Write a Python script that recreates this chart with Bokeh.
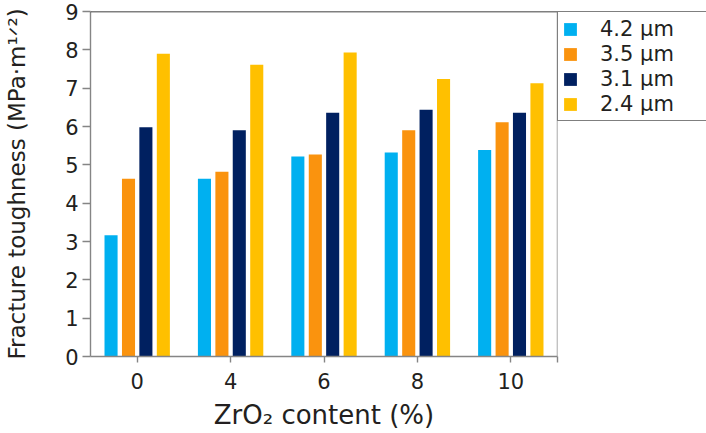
from bokeh.plotting import figure
from bokeh.models import ColumnDataSource, Legend, LegendItem, FixedTicker, Span, Range1d
from bokeh.transform import dodge
from bokeh.embed import file_html
from bokeh.resources import INLINE

# ---- data ----
zro2_content = ["0", "4", "6", "8", "10"]
series_names = ["4.2 μm", "3.5 μm", "3.1 μm", "2.4 μm"]
toughness_4_2 = [3.16, 4.64, 5.22, 5.32, 5.39]
toughness_3_5 = [4.64, 4.82, 5.27, 5.90, 6.11]
toughness_3_1 = [5.98, 5.90, 6.36, 6.44, 6.36]
toughness_2_4 = [7.90, 7.61, 7.93, 7.24, 7.13]
y_ticks = [0, 1, 2, 3, 4, 5, 6, 7, 8, 9]
x_title = "ZrO₂ content (%)"
y_title = "Fracture toughness (MPa·m¹ᐟ²)"

colors = ["#00B0F0", "#FA930E", "#002060", "#FFC000"]
offsets = [-0.28, -0.093, 0.093, 0.28]
bar_width = 0.14

pos = list(range(len(zro2_content)))
src = ColumnDataSource(dict(
    x=pos, s0=toughness_4_2, s1=toughness_3_5, s2=toughness_3_1, s3=toughness_2_4))

FONT = "DejaVu Sans"
TXT = "#231F20"
AX = "#858585"

p = figure(frame_width=467, frame_height=345,
           x_range=Range1d(-0.5, len(zro2_content) - 0.5),
           y_range=Range1d(y_ticks[0], y_ticks[-1]),
           output_backend="svg", toolbar_location=None,
           min_border_left=90, min_border_top=11, min_border_bottom=77,
           min_border_right=0)
p.background_fill_color = "white"
p.border_fill_color = "white"
p.outline_line_color = None
p.xgrid.visible = False
p.ygrid.visible = False

series_cols = ["s0", "s1", "s2", "s3"]
renderers = []
for i, col in enumerate(series_cols):
    r = p.vbar(x=dodge("x", offsets[i]), top=col, width=bar_width, source=src,
               fill_color=colors[i], line_color=None)
    renderers.append(r)

# axes
xa = p.xaxis[0]
xa.ticker = FixedTicker(ticks=pos + [len(zro2_content) - 0.5])
overrides = {i: lab for i, lab in enumerate(zro2_content)}
overrides[len(zro2_content) - 0.5] = ""
xa.major_label_overrides = overrides
xa.axis_label = x_title
ya = p.yaxis[0]
ya.ticker = FixedTicker(ticks=y_ticks)
ya.axis_label = y_title

for ax in (xa, ya):
    ax.axis_line_color = AX
    ax.axis_line_width = 1.4
    ax.major_tick_line_color = AX
    ax.major_tick_line_width = 1.4
    ax.major_tick_in = 0
    ax.minor_tick_line_color = None
    ax.major_label_text_font = FONT
    ax.major_label_text_font_size = "21px"
    ax.major_label_text_color = TXT
    ax.axis_label_text_font = FONT
    ax.axis_label_text_font_style = "normal"
    ax.axis_label_text_color = TXT

xa.major_tick_out = 6
xa.major_label_standoff = 10
xa.axis_label_text_font_size = "26px"
xa.axis_label_standoff = 8
ya.major_tick_out = 8
ya.major_label_standoff = 4
ya.axis_label_text_font_size = "23px"
ya.axis_label_standoff = 32

# frame top (black) and right (gray) borders
p.add_layout(Span(location=y_ticks[-1], dimension="width", line_color="black", line_width=1.6))
p.add_layout(Span(location=len(zro2_content) - 0.5, dimension="height", line_color=AX, line_width=1.4))

legend = Legend(items=[LegendItem(label=series_names[i], renderers=[renderers[i]])
                       for i in range(len(series_names))],
                location="top_left", orientation="vertical",
                padding=4, spacing=0, margin=0,
                glyph_width=16, glyph_height=16, label_height=25, label_width=102,
                label_standoff=22,
                label_text_font=FONT, label_text_font_size="21px", label_text_color=TXT,
                border_line_color="black", border_line_width=1.2,
                background_fill_color="white", background_fill_alpha=1.0)
p.add_layout(legend, "right")

open("out.html", "w").write(file_html(p, INLINE))
